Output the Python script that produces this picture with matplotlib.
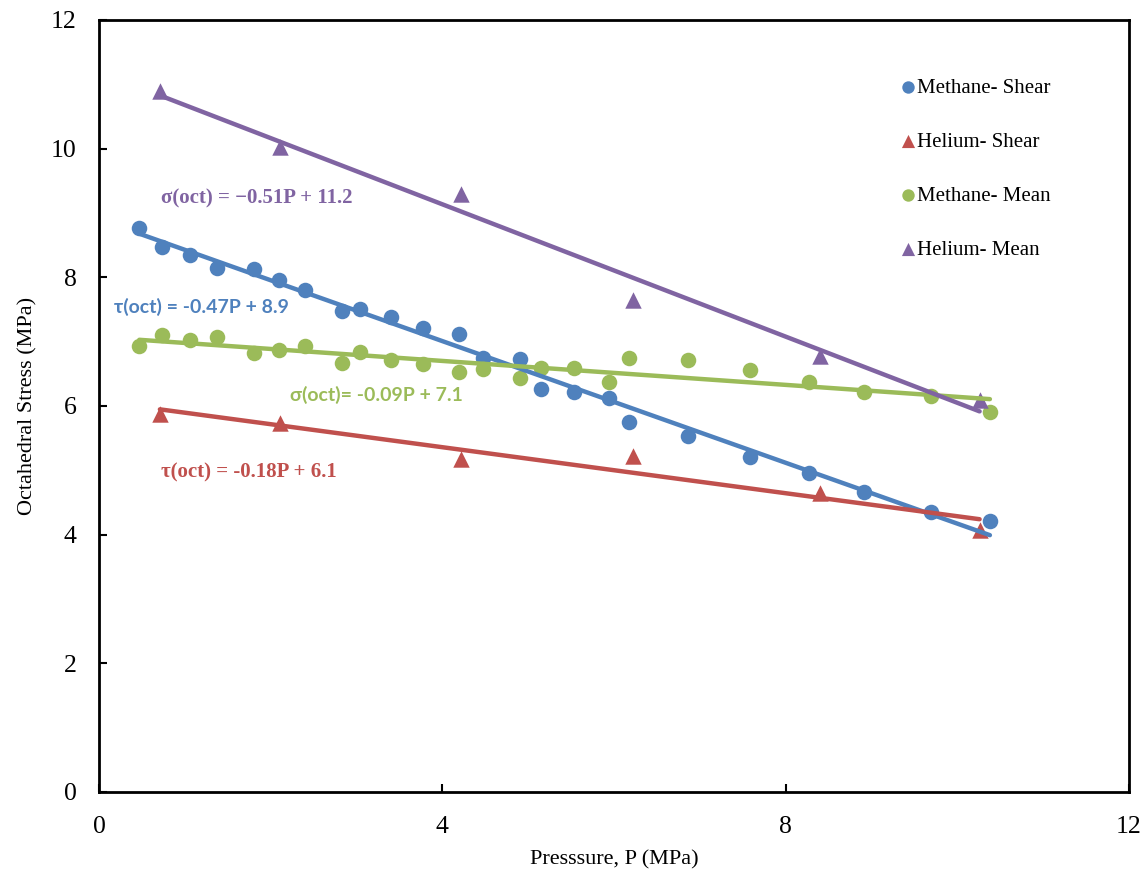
import numpy as np
import matplotlib
matplotlib.use("Agg")
import matplotlib.pyplot as plt

plt.rcParams['font.family'] = ['Liberation Serif', 'DejaVu Serif']

# Methane: shear (tau_oct) and mean (sigma_oct) stress vs pressure
methane_p = [0.47, 0.73, 1.06, 1.38, 1.81, 2.10, 2.40, 2.83, 3.04, 3.40, 3.77,
             4.19, 4.48, 4.91, 5.15, 5.54, 5.94, 6.18, 6.86, 7.58, 8.27, 8.91,
             9.69, 10.38]
methane_shear = [8.77, 8.47, 8.35, 8.15, 8.13, 7.96, 7.80, 7.47, 7.50, 7.39, 7.22,
                 7.12, 6.75, 6.73, 6.27, 6.21, 6.12, 5.75, 5.54, 5.20, 4.96, 4.67,
                 4.35, 4.21]
methane_mean = [6.94, 7.11, 7.03, 7.07, 6.83, 6.87, 6.94, 6.67, 6.84, 6.71, 6.65,
                6.53, 6.58, 6.43, 6.59, 6.59, 6.37, 6.74, 6.71, 6.56, 6.37, 6.21,
                6.16, 5.91]

# Helium
helium_p = [0.71, 2.11, 4.22, 6.22, 8.40, 10.26]
helium_shear = [5.88, 5.74, 5.17, 5.23, 4.64, 4.08]
helium_mean = [10.89, 10.02, 9.30, 7.65, 6.78, 6.10]

c_blue, c_red, c_green, c_purple = '#4F81BD', '#C0504D', '#9BBB59', '#8064A2'

series = [
    ('Methane- Shear', methane_p, methane_shear, c_blue, 'o'),
    ('Helium- Shear', helium_p, helium_shear, c_red, '^'),
    ('Methane- Mean', methane_p, methane_mean, c_green, 'o'),
    ('Helium- Mean', helium_p, helium_mean, c_purple, '^'),
]

fig = plt.figure(figsize=(11.48, 8.73), dpi=100)
ax = fig.add_axes([0.0862, 0.0928, 0.8972, 0.8843])

for label, x, y, col, mk in series:
    x = np.asarray(x)
    y = np.asarray(y)
    ax.scatter(x, y, s=125 if mk == 'o' else 140, marker=mk, color=col,
               label=label, zorder=2, linewidths=0)
    # linear trendline over the data range
    k, b = np.polyfit(x, y, 1)
    xs = np.array([x.min(), x.max()])
    ax.plot(xs, k * xs + b, color=col, lw=3.2, zorder=3,
            solid_capstyle='round')

# trendline equations
ax.text(0.72, 9.23, 'σ(oct) = \u22120.51P + 11.2', color=c_purple,
        fontsize=15, fontweight='bold', va='center', ha='left')
ax.text(0.72, 4.97, 'τ(oct) = -0.18P + 6.1', color=c_red,
        fontsize=15, fontweight='bold', va='center', ha='left')
ax.text(0.17, 7.54, 'τ(oct) = -0.47P + 8.9', color=c_blue,
        fontsize=14, fontweight='bold', va='center', ha='left',
        family=['Lato', 'DejaVu Sans'])
ax.text(2.23, 6.17, 'σ(oct)= -0.09P + 7.1', color=c_green,
        fontsize=14, fontweight='bold', va='center', ha='left',
        family=['Lato', 'DejaVu Sans'])

ax.set_xlim(0, 12)
ax.set_ylim(0, 12)
ax.set_xticks([0, 4, 8, 12])
ax.set_yticks([0, 2, 4, 6, 8, 10, 12])
ax.tick_params(direction='in', length=6, width=1.5, labelsize=18.5)
ax.tick_params(axis='x', pad=17)
ax.tick_params(axis='y', pad=16)
for sp in ax.spines.values():
    sp.set_linewidth(2)

ax.set_xlabel('Presssure, P (MPa)', fontsize=16, labelpad=9)
ax.set_ylabel('Octahedral Stress (MPa)', fontsize=16, labelpad=10)

ax.legend(loc='upper left', bbox_to_anchor=(0.761, 0.949), frameon=False,
          fontsize=15, scatterpoints=1, markerscale=0.8, handlelength=0.6,
          handletextpad=0.15, labelspacing=1.65)

fig.savefig('out.png', dpi=100)
